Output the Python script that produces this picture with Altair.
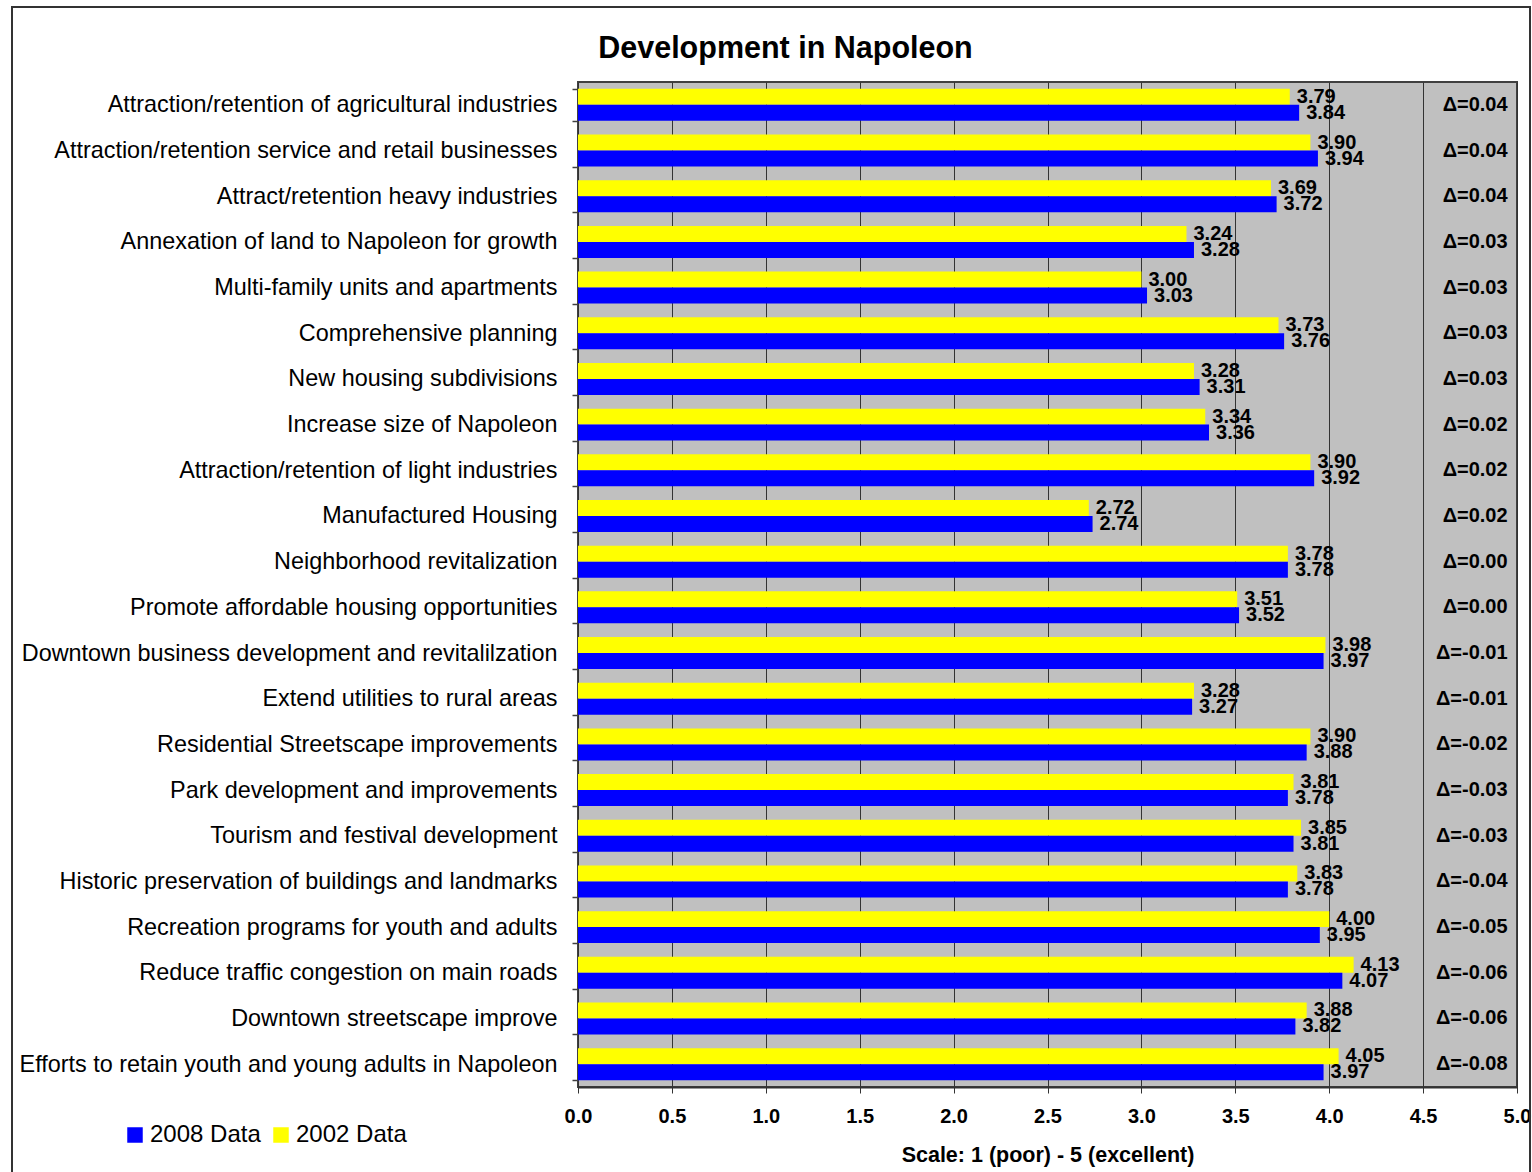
import altair as alt
import pandas as pd

FONT = "Liberation Sans"

categories = [
    "Attraction/retention of agricultural industries",
    "Attraction/retention service and retail businesses",
    "Attract/retention heavy industries",
    "Annexation of land to Napoleon for growth",
    "Multi-family units and apartments",
    "Comprehensive planning",
    "New housing subdivisions",
    "Increase size of Napoleon",
    "Attraction/retention of light industries",
    "Manufactured Housing",
    "Neighborhood revitalization",
    "Promote affordable housing opportunities",
    "Downtown business development and revitalilzation",
    "Extend utilities to rural areas",
    "Residential Streetscape improvements",
    "Park development and improvements",
    "Tourism and festival development",
    "Historic preservation of buildings and landmarks",
    "Recreation programs for youth and adults",
    "Reduce traffic congestion on main roads",
    "Downtown streetscape improve",
    "Efforts to retain youth and young adults in Napoleon",
]

data_2002 = [3.79, 3.90, 3.69, 3.24, 3.00, 3.73, 3.28, 3.34, 3.90, 2.72, 3.78,
             3.51, 3.98, 3.28, 3.90, 3.81, 3.85, 3.83, 4.00, 4.13, 3.88, 4.05]
data_2008 = [3.84, 3.94, 3.72, 3.28, 3.03, 3.76, 3.31, 3.36, 3.92, 2.74, 3.78,
             3.52, 3.97, 3.27, 3.88, 3.78, 3.81, 3.78, 3.95, 4.07, 3.82, 3.97]
deltas = [0.04, 0.04, 0.04, 0.03, 0.03, 0.03, 0.03, 0.02, 0.02, 0.02, 0.00,
          0.00, -0.01, -0.01, -0.02, -0.03, -0.03, -0.04, -0.05, -0.06, -0.06, -0.08]

series_names = ["2002 Data", "2008 Data"]
legend_order = ["2008 Data", "2002 Data"]
x_ticks = [0, 0.5, 1.0, 1.5, 2.0, 2.5, 3.0, 3.5, 4.0, 4.5, 5.0]

rows = []
for item, v02, v08 in zip(categories, data_2002, data_2008):
    rows.append({"item": item, "series": "2002 Data", "score": v02})
    rows.append({"item": item, "series": "2008 Data", "score": v08})
scores = pd.DataFrame(rows)

delta_df = pd.DataFrame({
    "item": categories,
    "label": [f"\u0394={d:.2f}" for d in deltas],
    "pos": [4.95] * len(categories),
})

y_enc = alt.Y(
    "item:N",
    sort=categories,
    scale=alt.Scale(paddingInner=0.3, paddingOuter=0.15),
    axis=alt.Axis(
        title=None,
        tickBand="extent",
        labelFont=FONT,
        labelFontSize=23.4,
        labelColor="black",
        labelPadding=15,
        labelLimit=700,
        tickSize=6,
        tickColor="#404040",
        tickWidth=1.5,
        domain=False,
    ),
)

x_enc = alt.X(
    "score:Q",
    scale=alt.Scale(domain=[0, 5], nice=False),
    axis=alt.Axis(
        values=x_ticks,
        format=".1f",
        grid=True,
        gridColor="#333333",
        gridWidth=1,
        gridOpacity=1,
        tickSize=6,
        tickColor="#333333",
        domainColor="#333333",
        domainWidth=2,
        labelFont=FONT,
        labelFontSize=20,
        labelFontWeight="bold",
        labelColor="black",
        labelPadding=13,
        labelFlush=False,
        labelOverlap=False,
        title="Scale: 1 (poor) - 5 (excellent)",
        titleFont=FONT,
        titleFontSize=21.5,
        titleFontWeight="bold",
        titleColor="black",
        titlePadding=18,
    ),
)

offset_enc = alt.YOffset("series:N", sort=series_names)

bars = alt.Chart(scores).mark_bar().encode(
    x=x_enc,
    y=y_enc,
    yOffset=offset_enc,
    color=alt.Color(
        "series:N",
        scale=alt.Scale(domain=legend_order, range=["#0000FF", "#FFFF00"]),
        legend=alt.Legend(
            title=None,
            orient="none",
            legendX=-455,
            legendY=1041,
            direction="horizontal",
            symbolType="square",
            symbolSize=240,
            symbolStrokeWidth=0,
            symbolOpacity=1,
            labelFont=FONT,
            labelFontSize=24,
            labelColor="black",
            labelOffset=3,
            columnPadding=8,
        ),
    ),
)

values = alt.Chart(scores).mark_text(
    align="left", baseline="middle", dx=7,
    font=FONT, fontSize=20, fontWeight="bold", color="black",
).encode(
    x="score:Q",
    y=alt.Y("item:N", sort=categories),
    yOffset=offset_enc,
    text=alt.Text("score:Q", format=".2f"),
)

delta_text = alt.Chart(delta_df).mark_text(
    align="right", baseline="middle",
    font=FONT, fontSize=20, fontWeight="bold", color="black",
).encode(
    x="pos:Q",
    y=alt.Y("item:N", sort=categories),
    text="label:N",
)

# outer frame around the whole figure
frame = alt.Chart(alt.Data(values=[{}])).mark_rect(
    fill=None, stroke="#333333", strokeWidth=2
).encode(
    x=alt.value(-566), x2=alt.value(952),
    y=alt.value(-75), y2=alt.value(1100),
)

chart = alt.layer(bars, values, delta_text, frame).properties(
    width=939,
    height=1005,
    background="white",
    padding={"left": 578, "top": 82, "right": 15, "bottom": 85},
    autosize=alt.AutoSizeParams(type="none"),
    title=alt.Title(
        "Development in Napoleon",
        font=FONT,
        fontSize=30.5,
        fontWeight="bold",
        color="black",
        anchor="middle",
        frame="group",
        baseline="alphabetic",
        dx=-262,
        offset=-82,
    ),
).configure_view(
    fill="#C0C0C0", stroke="#404040", strokeWidth=2
)

chart.save("out.html", embed_options={"renderer": "svg", "actions": False})
